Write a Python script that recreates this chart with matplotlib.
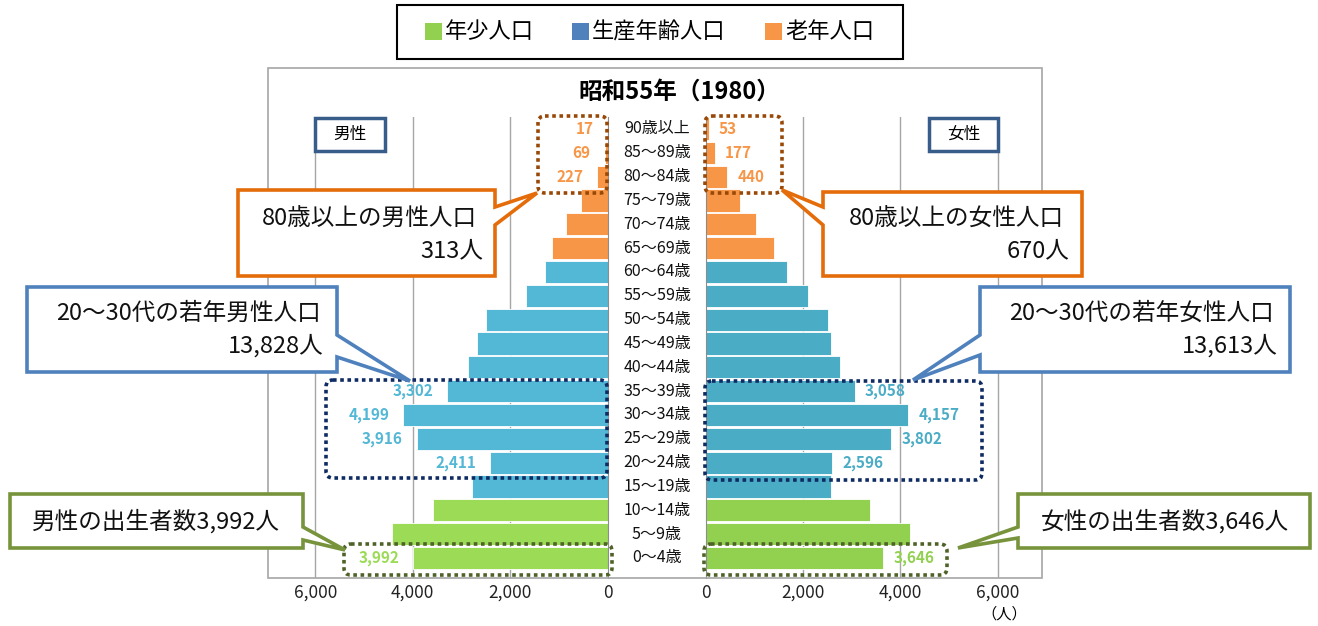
import matplotlib
matplotlib.use("Agg")
import matplotlib.pyplot as plt
from matplotlib.patches import Polygon, Rectangle, FancyBboxPatch
from matplotlib.transforms import Affine2D, blended_transform_factory

plt.rcParams['font.family'] = ['Noto Sans CJK JP', 'DejaVu Sans']

# data (young -> old)
ages = ['0～4歳', '5～9歳', '10～14歳', '15～19歳', '20～24歳', '25～29歳', '30～34歳',
        '35～39歳', '40～44歳', '45～49歳', '50～54歳', '55～59歳', '60～64歳',
        '65～69歳', '70～74歳', '75～79歳', '80～84歳', '85～89歳', '90歳以上']
groups = ['年少'] * 3 + ['生産'] * 10 + ['老年'] * 6
male = [3992, 4430, 3580, 2790, 2411, 3916, 4199, 3302, 2860, 2680, 2490,
        1690, 1300, 1140, 860, 550, 227, 69, 17]
female = [3646, 4200, 3380, 2570, 2596, 3802, 4157, 3058, 2760, 2570, 2510,
          2090, 1670, 1390, 1030, 700, 440, 177, 53]
labeled = [0, 4, 5, 6, 7, 16, 17, 18]
ticks = [0, 2000, 4000, 6000]
tick_labels = ['0', '2,000', '4,000', '6,000']

legend_names = ['年少人口', '生産年齢人口', '老年人口']
legend_colors = ['#92D050', '#4F81BD', '#F79646']
male_colors = {'年少': '#9BDB55', '生産': '#53B7D6', '老年': '#F79646'}
female_colors = {'年少': '#92D050', '生産': '#4BACC6', '老年': '#F79646'}

W, H = 1318, 626
fig = plt.figure(figsize=(W / 100, H / 100), dpi=100)
# pixel transform (y from top)
T = Affine2D().scale(1 / W, -1 / H).translate(0, 1) + fig.transFigure

axL = fig.add_axes([268 / W, (H - 578) / H, 340 / W, 461 / H])
axR = fig.add_axes([706 / W, (H - 578) / H, 336 / W, 461 / H])

rows = list(range(len(ages)))
axL.barh(rows, male, height=0.93, color=[male_colors[g] for g in groups],
         edgecolor='white', linewidth=0.6, zorder=2)
axR.barh(rows, female, height=0.93, color=[female_colors[g] for g in groups],
         edgecolor='white', linewidth=0.6, zorder=2)

axL.set_xlim(6967, 0)
axR.set_xlim(0, 6914)
for ax in (axL, axR):
    ax.set_ylim(-0.84, 18.5)
    ax.set_yticks([])
    ax.set_xticks(ticks)
    ax.set_xticklabels(tick_labels)
    ax.tick_params(axis='x', length=0, pad=4, labelsize=12.5, labelcolor='#222222')
    for t in ticks[1:]:
        ax.axvline(t, color='#A6A6A6', lw=1, zorder=0)
    for s in ax.spines.values():
        s.set_visible(False)
axL.spines['right'].set_visible(True)
axL.spines['right'].set_color('#8C8C8C')
axR.spines['left'].set_visible(True)
axR.spines['left'].set_color('#8C8C8C')

# value labels
for i in labeled:
    g = groups[i]
    axL.annotate(f'{male[i]:,}', (male[i], i), xytext=(-10, 0), textcoords='offset points',
                 ha='right', va='center', fontsize=11, fontweight='bold', color=male_colors[g])
    axR.annotate(f'{female[i]:,}', (female[i], i), xytext=(7.5, 0), textcoords='offset points',
                 ha='left', va='center', fontsize=11, fontweight='bold', color=female_colors[g])

# age labels in the middle
bt = blended_transform_factory(fig.transFigure, axL.transData)
for i, a in enumerate(ages):
    fig.text(657 / W, i, a, transform=bt, ha='center', va='center', fontsize=11.5, color='#111111')

# outer frame
fig.patches.append(Rectangle((268, 68), 774, 510, transform=T, fill=False,
                             edgecolor='#A6A6A6', lw=1.2))

fig.text(679 / W, 1 - 92 / H, '昭和55年（1980）', ha='center', va='center',
         fontsize=17, fontweight='bold')

# legend
fig.patches.append(Rectangle((397, 5), 506, 54, transform=T, fill=False, edgecolor='black', lw=1.5))
for x0, name, c in zip([425, 572, 765], legend_names, legend_colors):
    fig.patches.append(Rectangle((x0, 23), 17, 17, transform=T, facecolor=c, edgecolor='none'))
    fig.text((x0 + 20) / W, 1 - 32 / H, name, ha='left', va='center', fontsize=16)

# sex boxes
for (x0, x1), s in zip([(315, 385), (929, 998)], ['男性', '女性']):
    fig.patches.append(Rectangle((x0, 118), x1 - x0, 33, transform=T, facecolor='white',
                                 edgecolor='#385D8A', lw=2.5, zorder=3))
    fig.text((x0 + x1) / 2 / W, 1 - 134.5 / H, s, ha='center', va='center', fontsize=12, zorder=4)

# dotted rounded boxes
for (x0, y0, x1, y1), c in [((538, 116, 607, 193), '#984807'), ((705, 116, 782, 193), '#984807'),
                            ((326, 380, 607, 478), '#0F2B63'), ((705, 381, 982, 480), '#0F2B63'),
                            ((344, 544, 612, 575), '#4F6228'), ((704, 544, 947, 575), '#4F6228')]:
    fig.patches.append(FancyBboxPatch((x0, y0), x1 - x0, y1 - y0, transform=T,
                                      boxstyle='round,pad=0,rounding_size=7', fill=False,
                                      edgecolor=c, lw=2.6, ls=(0, (1, 1)), zorder=5))

# callouts
callouts = [
    ([(238, 190), (495, 190), (495, 207), (537, 193), (495, 225), (495, 276), (238, 276)], '#E46C0A'),
    ([(823, 192), (1082, 192), (1082, 276), (823, 276), (823, 225), (782, 190), (823, 207)], '#E46C0A'),
    ([(27, 287), (337, 287), (337, 335), (410, 381), (337, 357), (337, 372), (27, 372)], '#4F81BD'),
    ([(980, 287), (1290, 287), (1290, 372), (980, 372), (980, 355), (913, 380), (980, 335)], '#4F81BD'),
    ([(10, 494), (303, 494), (303, 527), (345, 550), (303, 540), (303, 548), (10, 548)], '#77933C'),
    ([(1018, 494), (1310, 494), (1310, 548), (1018, 548), (1018, 538), (958, 548), (1018, 527)], '#77933C'),
]
for pts, c in callouts:
    fig.patches.append(Polygon(pts, closed=True, transform=T, facecolor='white', edgecolor=c,
                               lw=2.6, joinstyle='miter', zorder=6))

texts = [
    (477, 219, '80歳以上の男性人口', 'right'), (483, 251, '313人', 'right'),
    (1064, 219, '80歳以上の女性人口', 'right'), (1070, 251, '670人', 'right'),
    (321, 313, '20～30代の若年男性人口', 'right'), (324, 346, '13,828人', 'right'),
    (1274, 313, '20～30代の若年女性人口', 'right'), (1278, 346, '13,613人', 'right'),
    (156, 521, '男性の出生者数3,992人', 'center'), (1165, 521, '女性の出生者数3,646人', 'center'),
]
for x, y, s, ha in texts:
    fig.text(x / W, 1 - y / H, s, ha=ha, va='center', fontsize=17, color='#111111', zorder=7)

fig.text(1004 / W, 1 - 614 / H, '（人）', ha='center', va='center', fontsize=11)

fig.savefig('out.png', dpi=100)
